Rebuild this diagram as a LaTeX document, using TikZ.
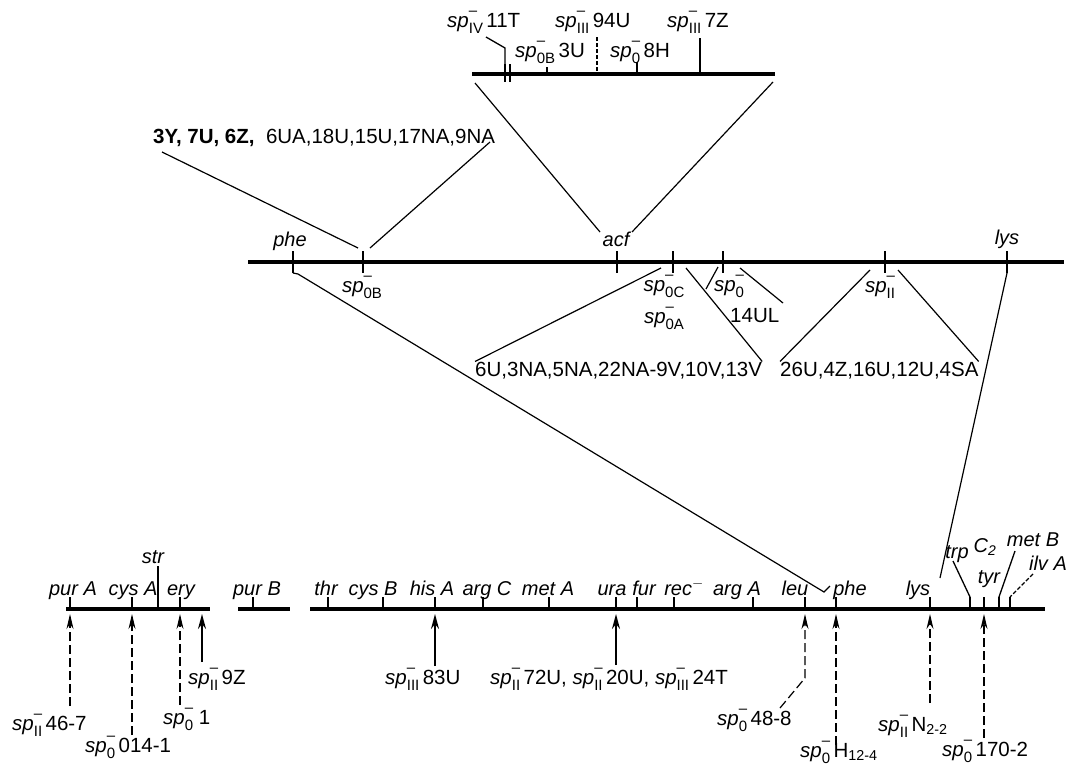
\documentclass[tikz,border=0pt]{standalone}
\usepackage{fontspec}
\setmainfont{Liberation Sans}
\usetikzlibrary{arrows.meta}

\newcommand{\spm}[1]{\textit{sp}\rlap{\raisebox{0.58em}{\fontsize{15}{15}\selectfont --}}\raisebox{-0.32em}{\fontsize{15}{15}\selectfont #1}}

\begin{document}
\begin{tikzpicture}[x=1pt, y=-1pt, font=\fontsize{20.5}{22}\selectfont,
  map/.style={line width=4pt},
  tk/.style={line width=1.3pt},
  fan/.style={line width=1.2pt},
  gene/.style={font=\fontsize{20}{22}\selectfont\itshape, inner sep=0pt, anchor=base},
  lab/.style={inner sep=0pt, anchor=base west},
  spn/.style={inner sep=0pt, anchor=base},
  solidup/.style={line width=2pt, -{Stealth[length=15pt, width=8pt]}},
  dashup/.style={line width=1.2pt, dash pattern=on 9pt off 4pt, -{Stealth[length=15pt, width=7pt]}}]
\useasboundingbox (0,0) rectangle (1077,769);
% top segment
\draw[map] (472,74) coordinate (t-l) -- (775,74) coordinate (t-r);
\draw[tk] (505,64) -- (505,82); \draw[tk] (510,64) -- (510,82);
\draw[tk] (547,67) -- (547,74);
\draw[tk, dash pattern=on 4pt off 2pt] (597,37) -- (597,74);
\draw[tk] (637,62) -- (637,74);
\draw[tk] (700,38) -- (700,74);
\node[lab] (t11T) at (447,27) {\spm{IV}\,11T};
\node[lab] (t94U) at (555,27) {\spm{III}\,94U};
\node[lab] (t7Z) at (667,27) {\spm{III}\,7Z};
\node[lab] (t3U) at (515,57) {\spm{0B}\,3U};
\node[lab] (t8H) at (610,57) {\spm{0}\,8H};
\draw[tk] (486,37) -- (505,48) -- (505,64);
% middle map
\draw[map] (248,262) -- (1064,262);
\foreach \n/\x in {phe/293, ob/363, acf/617, oc/673, o/723, ii/885, lys/1007}
  \draw[tk] (\x,251) -- (\x,273) coordinate (m-\n);
\node[gene] (phe1) at (290,246) {phe};
\node[gene] (acf1) at (616,246) {acf};
\node[gene] (lys1) at (1007,244) {lys};
\node[spn] (ob1) at (362,292) {\spm{0B}};
\node[spn] (oc1) at (664,291) {\spm{0C}};
\node[spn] (oa1) at (664,323) {\spm{0A}};
\node[spn] (o1) at (729,291) {\spm{0}};
\node[lab] (ul1) at (730,322) {14UL};
\node[spn] (ii1) at (880,292) {\spm{II}};
\draw[fan] (t-l) ++(3,9) -- (600,232);
\draw[fan] (t-r) ++(-2,8) -- (632,232);
\node[lab] (grp0) at (153,143) {\textbf{3Y, 7U, 6Z,}\ \ 6UA,18U,15U,17NA,9NA};
\draw[fan] (162,152) -- (358,248);
\draw[fan] (490,142) -- (370,248);
\node[lab] (grpA) at (475,376) {6U,3NA,5NA,22NA-9V,10V,13V};
\node[lab] (grpB) at (780,376) {26U,4Z,16U,12U,4SA};
\draw[fan] (661,268) -- (grpA.north west);
\draw[fan] (686,268) -- (grpA.north east);
\draw[fan] (718,267) -- (706,289);
\draw[fan] (740,268) -- (783,303);
\draw[fan] (870,270) -- (grpB.north west);
\draw[fan] (898,270) -- (grpB.north east);
% bottom map
\draw[map] (66,609) -- (210,609);
\draw[map] (238,609) -- (290,609);
\draw[map] (310,609) -- (1045,609);
\foreach \n/\x in {purA/70, cysA/132, ery/180, purB/253, thr/328, cysB/383, hisA/435, argC/483,
  metA/549, ura/616, fur/637, rec/674, argA/753, leu/805, phe/836, lys/930, trp/970, tyr/984, metB/999, ilvA/1010}
  \draw[tk] (\x,597) coordinate (b-\n) -- (\x,609);
\draw[tk] (158,566) coordinate (b-str) -- (158,609);
\foreach \n/\x/\t in {purA/73/pur A, cysA/133/cys A, ery/181/ery, purB/257/pur B, thr/326/thr, cysB/373/cys B,
  hisA/432/his A, argC/487/arg C, metA/548/met A, ura/612/ura, fur/644/fur, rec/684/rec$^-$, argA/737/arg A,
  leu/795/leu, phe/850/phe, lys/918/lys}
  \node[gene] (g-\n) at (\x,595) {\t};
\node[gene] (g-str) at (153,563) {str};
\node[gene] (g-trp) at (957,558) {trp};
\node[gene] (g-C) at (985,552) {C\textsubscript{2}};
\node[gene] (g-tyr) at (989,583) {tyr};
\node[gene] (g-metB) at (1033,546) {met B};
\node[gene] (g-ilvA) at (1048,570) {ilv A};
\draw[tk] (953,561) -- (b-trp);
\draw[tk] (1015,551) -- (b-metB);
\draw[tk, dash pattern=on 4pt off 2pt] (1033,574) -- (b-ilvA);
\draw[fan] (m-phe) -- (298,274) -- (824,592) -- (830,586);
\draw[fan] (m-lys) -- (940,578);
% mutant arrows
\foreach \n/\x/\y/\s in {purA/70/706/dashup, cysA/132/735/dashup, ery/180/705/dashup, z9/202/662/solidup,
  hisA/435/666/solidup, ura/616/665/solidup, phe/836/745/dashup, lys/930/703/dashup, tyr/984/738/dashup}
  \draw[\s] (\x,\y) coordinate (f-\n) -- (\x,614);
\draw[dashup] (780,708) coordinate (f-leu) -- (805,678) -- (805,614);
\node[lab] (a467) at (12,730) {\spm{II}\,46-7};
\node[lab] (a014) at (85,752) {\spm{0}\,014-1};
\node[lab] (a1) at (163,724) {\spm{0}\ 1};
\node[lab] (a9Z) at (188,684) {\spm{II}\,9Z};
\node[lab] (a83U) at (385,684) {\spm{III}\,83U};
\node[lab] (a72U) at (490,684) {\spm{II}\,72U, \spm{II}\,20U, \spm{III}\,24T};
\node[lab] (a488) at (717,725) {\spm{0}\,48-8};
\node[lab] (aH) at (800,757) {\spm{0}\,H\textsubscript{12-4}};
\node[lab] (aN) at (878,731) {\spm{II}\,N\textsubscript{2-2}};
\node[lab] (a170) at (942,756) {\spm{0}\,170-2};
\end{tikzpicture}
\end{document}
